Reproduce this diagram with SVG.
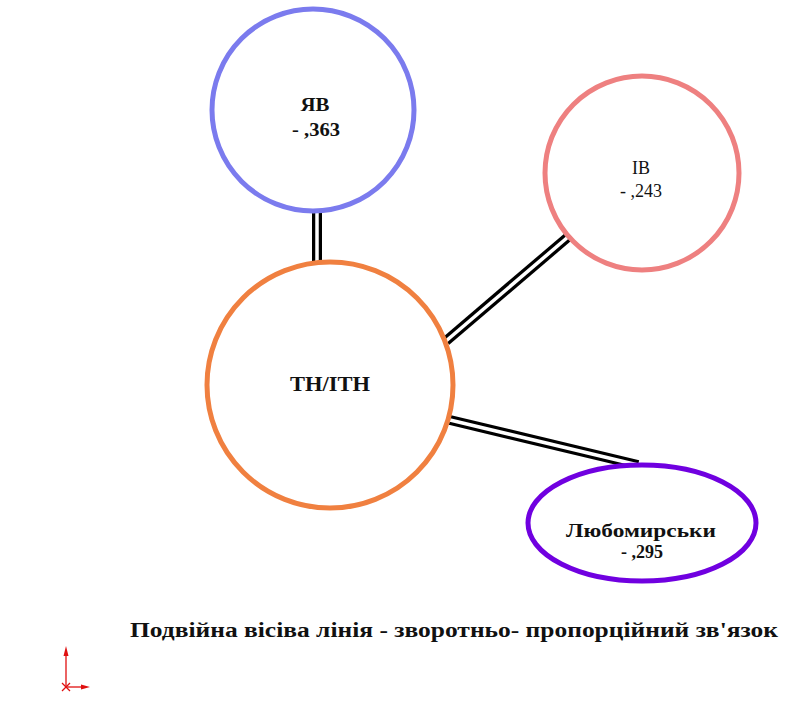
<svg xmlns="http://www.w3.org/2000/svg" width="795" height="709" viewBox="0 0 795 709">
<style>
.node{fill:#fff;stroke-width:5}
text{font-family:'Liberation Serif','DejaVu Serif','Times New Roman',serif;text-anchor:middle;fill:#111}
.b{font-weight:bold}
.outer{stroke:#000;stroke-width:10;fill:none}
.inner{stroke:#fff;stroke-width:3.5;fill:none}
</style>
<rect width="795" height="709" fill="#fff"/>
<g id="connectors">
<line class="outer" x1="317" y1="210" x2="317" y2="265"/>
<line class="inner" x1="317" y1="210" x2="317" y2="265"/>
<line class="outer" x1="446" y1="341" x2="568" y2="237"/>
<line class="inner" x1="446" y1="341" x2="568" y2="237"/>
<line class="outer" x1="450" y1="420" x2="638" y2="465"/>
<line class="inner" x1="450" y1="420" x2="638" y2="465"/>
</g>
<g id="node-yav">
<circle class="node" cx="313" cy="110" r="101" stroke="#7B7BEE"/>
<text class="b" x="315" y="111" font-size="18" textLength="29" lengthAdjust="spacingAndGlyphs">ЯВ</text>
<text class="b" x="316" y="136" font-size="18" textLength="48" lengthAdjust="spacingAndGlyphs">- ,363</text>
</g>
<g id="node-iv">
<circle class="node" cx="642" cy="173" r="97" stroke="#EE8080"/>
<text x="641" y="174" font-size="18">ІВ</text>
<text x="641" y="197" font-size="18">- ,243</text>
</g>
<g id="node-tn">
<circle class="node" cx="330" cy="385" r="123" stroke="#F08040"/>
<text class="b" x="330" y="391" font-size="21" textLength="80" lengthAdjust="spacingAndGlyphs">ТН/ІТН</text>
</g>
<g id="node-lyubomyrsky">
<ellipse class="node" cx="642" cy="523" rx="114" ry="58" stroke="#7000E0"/>
<text class="b" x="641" y="537" font-size="18" textLength="150" lengthAdjust="spacingAndGlyphs">Любомирськи</text>
<text class="b" x="642" y="558" font-size="18">- ,295</text>
</g>
<g id="legend">
<text class="b" x="454" y="637" font-size="20" textLength="648" lengthAdjust="spacingAndGlyphs">Подвійна вісіва лінія - зворотньо- пропорційний зв'язок</text>
</g>
<g id="axes" stroke="#E01010" fill="#E01010" stroke-width="1.3">
<line x1="66" y1="687" x2="66" y2="652"/>
<polygon points="66,646 63.5,656 68.5,656" stroke="none"/>
<line x1="66" y1="687" x2="84" y2="687"/>
<polygon points="90,687 81,684.5 81,689.5" stroke="none"/>
<line x1="62" y1="683" x2="70" y2="691"/>
<line x1="62" y1="691" x2="70" y2="683"/>
</g>
</svg>
